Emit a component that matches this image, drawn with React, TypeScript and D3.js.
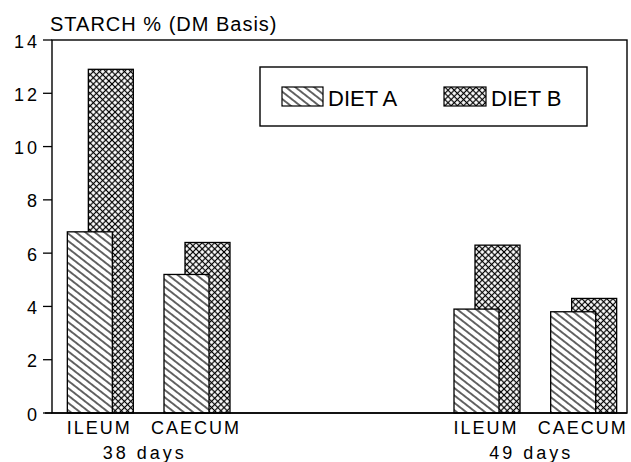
import * as d3 from "d3";

// slots on the x axis, two empty ones separate the two ages
const slots = ["ILEUM38", "CAECUM38", "gap1", "gap2", "ILEUM49", "CAECUM49"];
const categories = ["ILEUM38", "CAECUM38", "ILEUM49", "CAECUM49"];
const categoryLabels = ["ILEUM", "CAECUM", "ILEUM", "CAECUM"];
const dietA = [6.8, 5.2, 3.9, 3.8];
const dietB = [12.9, 6.4, 6.3, 4.3];
const ageLabels = ["38 days", "49 days"];
const ageGroups = [
  ["ILEUM38", "CAECUM38"],
  ["ILEUM49", "CAECUM49"],
];
const yTicks = [0, 2, 4, 6, 8, 10, 12, 14];

const W = 631;
const H = 462;
const plot = { left: 52, right: 627, top: 40, bottom: 413 };
const font = "'Liberation Sans', Arial, Helvetica, sans-serif";

export default function App() {
  const x = d3.scaleBand<string>().domain(slots).range([plot.left, 632]);
  const y = d3.scaleLinear().domain([0, 14]).range([plot.bottom, plot.top]);
  const center = (c: string) => (x(c) || 0) + x.bandwidth() / 2;
  const barW = 45;

  return (
    <svg
      width={W}
      height={H}
      viewBox={`0 0 ${W} ${H}`}
      style={{ position: "absolute", left: 0, top: 0, background: "#fff" }}
    >
      <defs>
        <pattern
          id="hatchA"
          patternUnits="userSpaceOnUse"
          width={5.8}
          height={5.8}
          patternTransform="rotate(38)"
        >
          <rect width={5.8} height={5.8} fill="#fff" />
          <line x1={0} x2={5.8} y1={2.9} y2={2.9} stroke="#000" strokeWidth={1.2} />
        </pattern>
        <pattern
          id="hatchB"
          patternUnits="userSpaceOnUse"
          width={4.4}
          height={4.4}
          patternTransform="rotate(45)"
        >
          <rect width={4.4} height={4.4} fill="#fff" />
          <line x1={0} x2={4.4} y1={2.2} y2={2.2} stroke="#000" strokeWidth={1.2} />
          <line x1={2.2} x2={2.2} y1={0} y2={4.4} stroke="#000" strokeWidth={1.2} />
        </pattern>
      </defs>

      <rect width={W} height={H} fill="#fff" />

      {/* title */}
      <text x={50} y={31} fontFamily={font} fontSize={20} letterSpacing={1} fill="#000">
        STARCH % (DM Basis)
      </text>

      {/* bars: diet B behind, diet A in front */}
      {categories.map((c, i) => (
        <g key={c}>
          <rect
            x={center(c) - 12}
            y={y(dietB[i])}
            width={barW}
            height={y(0) - y(dietB[i])}
            fill="url(#hatchB)"
            stroke="#000"
            strokeWidth={1.3}
          />
          <rect
            x={center(c) - 33}
            y={y(dietA[i])}
            width={barW}
            height={y(0) - y(dietA[i])}
            fill="url(#hatchA)"
            stroke="#000"
            strokeWidth={1.3}
          />
        </g>
      ))}

      {/* frame */}
      <rect
        x={plot.left}
        y={plot.top}
        width={plot.right - plot.left}
        height={plot.bottom - plot.top}
        fill="none"
        stroke="#000"
        strokeWidth={1.4}
      />
      <line x1={45} x2={plot.right} y1={y(0)} y2={y(0)} stroke="#000" strokeWidth={1.6} />

      {/* y axis ticks */}
      {yTicks.map((t) => (
        <g key={t}>
          <line x1={43} x2={plot.left} y1={y(t)} y2={y(t)} stroke="#000" strokeWidth={1.3} />
          <text
            x={40}
            y={y(t) + 7.5}
            textAnchor="end"
            fontFamily={font}
            fontSize={18}
            letterSpacing={3}
            fill="#000"
          >
            {t}
          </text>
        </g>
      ))}

      {/* category labels */}
      {categories.map((c, i) => (
        <text
          key={c}
          x={center(c) - 1}
          y={434}
          textAnchor="middle"
          fontFamily={font}
          fontSize={18}
          letterSpacing={2}
          fill="#000"
        >
          {categoryLabels[i]}
        </text>
      ))}

      {/* age labels */}
      {ageGroups.map((g, i) => (
        <text
          key={ageLabels[i]}
          x={(center(g[0]) + center(g[1])) / 2 - 4}
          y={459}
          textAnchor="middle"
          fontFamily={font}
          fontSize={18}
          letterSpacing={3}
          fill="#000"
        >
          {ageLabels[i]}
        </text>
      ))}

      {/* legend */}
      <rect x={260} y={67} width={327} height={59} fill="#fff" stroke="#000" strokeWidth={1.4} />
      <rect x={282} y={87} width={41} height={19} fill="url(#hatchA)" stroke="#000" strokeWidth={1.2} />
      <text x={328} y={106} fontFamily={font} fontSize={22} fill="#000">
        DIET A
      </text>
      <rect x={444} y={87} width={42} height={19} fill="url(#hatchB)" stroke="#000" strokeWidth={1.2} />
      <text x={491} y={106} fontFamily={font} fontSize={22} fill="#000">
        DIET B
      </text>
    </svg>
  );
}
